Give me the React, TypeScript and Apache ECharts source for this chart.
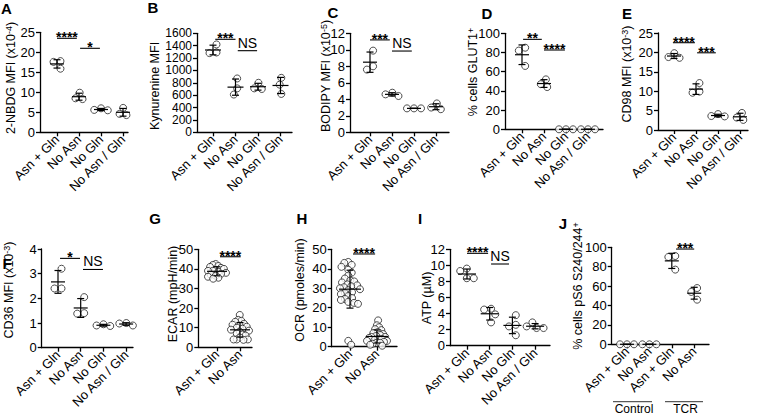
import React, { useEffect, useRef } from 'react';
import * as echarts from 'echarts';

const FONT = 'Liberation Sans, Arial, Helvetica, sans-serif';

// ---- categories ----
const catsFour = ['Asn + Gln', 'No Asn', 'No Gln', 'No Asn / Gln'];
const catsTwo = ['Asn + Gln', 'No Asn'];
const catsJ = ['Asn + Gln', 'No Asn', 'Asn + Gln', 'No Asn'];

// ---- series values (one list per group) ----
const nbdgValues = [[17.8, 17.6, 15.9], [9.9, 8.3, 8.5], [6.0, 5.6, 5.5], [6.1, 4.3, 4.6]];
const kynurenineValues = [[1420, 1280, 1290], [870, 710, 610], [800, 710, 700], [880, 770, 620]];
const bodipyValues = [[9.9, 8.0, 7.6], [4.8, 4.4, 4.6], [2.9, 2.9, 2.9], [3.5, 3.0, 2.8]];
const glut1Values = [[85, 82, 66], [52, 47, 44], [0, 0, 0], [0, 0, 0]];
const cd98Values = [[19.8, 18.6, 18.8], [12.1, 9.9, 9.6], [4.1, 3.6, 3.5], [4.4, 3.2, 2.6]];
const cd36Values = [[3.2, 2.4, 2.4], [2.05, 1.38, 1.4], [0.95, 0.88, 0.9], [1.0, 0.9, 0.98]];
const ecarValues = [
  [42.5, 42, 41.5, 41, 40.5, 40, 39.5, 39, 39, 38.5, 38, 37.5, 37, 36.5, 36, 35.5, 35],
  [16.5, 14, 13.5, 13, 12, 11.5, 11, 10.5, 10, 9.5, 9, 8.5, 8, 7, 6.5, 6, 5, 4, 4, 4, 3.8],
];
const ocrValues = [
  [43.5, 43, 42, 41, 39.5, 38, 36.5, 35, 34, 33.5, 33, 32, 31.5, 31, 30.5, 30, 29.5, 29, 28, 27.5, 27, 26, 25, 24.5, 24, 23, 22.5, 22, 3, 1],
  [13.5, 11, 10, 9, 8.5, 7.5, 7, 6.5, 6, 5.5, 5, 5, 4.5, 4, 4, 3.5, 3, 3, 2.5, 2, 2, 1.5, 1, 0.5],
];
const atpValues = [[9.6, 9.3, 8.4, 8.4], [4.6, 4.5, 3.9, 2.9], [3.8, 2.6, 2.4, 1.3], [2.9, 2.4, 2.2, 2.2]];
const ps6Values = [[0, 0, 0], [0, 0, 0], [91, 90, 77], [58, 54, 46]];

// ---- significance annotations: [from category, to category, level, label] ----
const nbdgSig: [number, number, number, string][] = [[1, 1.9, 23.5, '****'], [2.05, 2.95, 21, '*']];
const kynSig: [number, number, number, string][] = [[1.1, 2.0, 1503, '***'], [2.1, 2.96, 1319, 'NS']];
const bodipySig: [number, number, number, string][] = [[1, 1.9, 11.2, '***'], [2.0, 2.9, 9.85, 'NS']];
const glut1Sig: [number, number, number, string][] = [[1.05, 1.9, 93.7, '**'], [2.0, 2.95, 82.6, '****']];
const cd98Sig: [number, number, number, string][] = [[0.95, 1.95, 22.5, '****'], [2.05, 2.9, 19.9, '***']];
const cd36Sig: [number, number, number, string][] = [[1.09, 1.97, 3.62, '*'], [2.1, 2.98, 3.17, 'NS']];
const ecarSig: [number, number, number, string][] = [[1.13, 2.03, 46.2, '****']];
const ocrSig: [number, number, number, string][] = [[1.11, 1.93, 47.6, '****']];
const atpSig: [number, number, number, string][] = [[1.0, 1.93, 11.5, '****'], [2.06, 2.85, 10.17, 'NS']];
const ps6Sig: [number, number, number, string][] = [[3.19, 4.0, 98.2, '***']];

// ---- axis titles / panel letters / y ticks ----
const axisTitles = [
  '2-NBDG MFI (x10{sup|-4})',
  'Kynurenine MFI',
  'BODIPY MFI (x10{sup|-5})',
  '% cells GLUT1{sup|+}',
  'CD98 MFI (x10{sup|-3})',
  'CD36 MFI (x10{sup|-3})',
  'ECAR (mpH/min)',
  'OCR (pmoles/min)',
  'ATP (µM)',
  '% cells pS6 S240/244{sup|+}',
];
const panelLetters = ['A', 'B', 'C', 'D', 'E', 'F', 'G', 'H', 'I', 'J'];
const yMaxes = [25, 1600, 12, 100, 25, 4, 50, 50, 12, 100];
const yIntervals = [5, 200, 2, 20, 5, 1, 10, 10, 2, 20];
const groupLabelsJ = ['Control', 'TCR'];

const panelData = [
  { cats: catsFour, values: nbdgValues, sig: nbdgSig },
  { cats: catsFour, values: kynurenineValues, sig: kynSig },
  { cats: catsFour, values: bodipyValues, sig: bodipySig },
  { cats: catsFour, values: glut1Values, sig: glut1Sig },
  { cats: catsFour, values: cd98Values, sig: cd98Sig },
  { cats: catsFour, values: cd36Values, sig: cd36Sig },
  { cats: catsTwo, values: ecarValues, sig: ecarSig },
  { cats: catsTwo, values: ocrValues, sig: ocrSig },
  { cats: catsFour, values: atpValues, sig: atpSig },
  { cats: catsJ, values: ps6Values, sig: ps6Sig },
];

// layout (pixels)
const layout = [
  { left: 40, right: 128, first: 57, sp: 22, top: 32.3, bottom: 132.3, meanW: 14, half: 99, yFont: 13, lx: 6.5, ly: 8, tx: 11, ty: 78 },
  { left: 197, right: 292, first: 213, sp: 22.5, top: 33.3, bottom: 132.3, meanW: 16, half: 99, yFont: 12, lx: 153, ly: 7.5, tx: 154.5, ty: 86 },
  { left: 350, right: 449, first: 370, sp: 22, top: 33.3, bottom: 132.3, meanW: 14, half: 99, yFont: 13, lx: 333, ly: 12, tx: 326, ty: 76 },
  { left: 505, right: 603, first: 522, sp: 22, top: 33.3, bottom: 129.3, meanW: 14, half: 99, yFont: 13, lx: 487, ly: 13, tx: 473, ty: 72 },
  { left: 658, right: 748, first: 674, sp: 22, top: 33, bottom: 130, meanW: 14, half: 99, yFont: 13, lx: 627, ly: 13, tx: 627, ty: 74 },
  { left: 41.7, right: 133, first: 58, sp: 22.7, top: 249, bottom: 347.7, meanW: 14, half: 99, yFont: 13, lx: 7, ly: 263, tx: 9, ty: 290 },
  { left: 198.3, right: 252, first: 217, sp: 23, top: 249.3, bottom: 347.3, meanW: 20, half: 9, yFont: 13, lx: 155, ly: 218, tx: 173, ty: 294 },
  { left: 331.7, right: 397, first: 350, sp: 27, top: 249.3, bottom: 346.7, meanW: 22, half: 10, yFont: 13, lx: 302, ly: 218.5, tx: 300, ty: 290 },
  { left: 450, right: 550, first: 467, sp: 22.7, top: 249.3, bottom: 345.7, meanW: 18, half: 99, yFont: 13, lx: 420, ly: 218.5, tx: 427, ty: 298 },
  { left: 611.7, right: 709, first: 627, sp: 22.4, top: 247.3, bottom: 344.3, meanW: 14, half: 99, yFont: 13, lx: 563, ly: 223.5, tx: 578, ty: 286 },
];

const SYM = 7;

function swarm(vals: number[], pxY: number, D: number, half: number): number[] {
  const idx = vals.map((_, i) => i).sort((a, b) => vals[b] - vals[a]);
  const placed: { x: number; y: number }[] = [];
  const out = new Array(vals.length).fill(0);
  let flip = 1;
  for (const i of idx) {
    const y = vals[i] * pxY;
    const cands = [0];
    for (const p of placed) {
      const dy = Math.abs(p.y - y);
      if (dy < D) {
        const dx = Math.sqrt(D * D - dy * dy);
        cands.push(p.x + dx + 0.01, p.x - dx - 0.01);
      }
    }
    cands.sort((a, b) => Math.abs(a) - Math.abs(b) || (a - b) * flip);
    let chosen = 0;
    for (const c of cands) {
      if (placed.every((p) => (p.x - c) ** 2 + (p.y - y) ** 2 >= D * D - 0.05)) {
        chosen = c;
        break;
      }
    }
    if (chosen !== 0) flip = -flip;
    placed.push({ x: chosen, y });
    out[i] = chosen;
  }
  const mn = Math.min(...out);
  const mx = Math.max(...out);
  const shift = (mn + mx) / 2;
  let res = out.map((o) => o - shift);
  const maxAbs = Math.max(...res.map(Math.abs));
  if (maxAbs > half) res = res.map((o) => (o * half) / maxAbs);
  return res;
}

function meanSd(v: number[]) {
  const m = v.reduce((a, b) => a + b, 0) / v.length;
  const s = v.length > 1 ? Math.sqrt(v.reduce((a, b) => a + (b - m) ** 2, 0) / (v.length - 1)) : 0;
  return [m, s];
}

function buildOption() {
  const axisLineStyle = { color: '#000', width: 1.3 };
  const grid: any[] = [];
  const xAxis: any[] = [];
  const yAxis: any[] = [];
  const series: any[] = [];
  const graphic: any[] = [];

  panelData.forEach((pd, i) => {
    const L = layout[i];
    const xmin = 1 - (L.first - L.left) / L.sp;
    const xmax = 1 + (L.right - L.first) / L.sp;
    const ymax = yMaxes[i];
    const yint = yIntervals[i];
    const pxY = (L.bottom - L.top) / ymax;
    grid.push({ left: L.left, top: L.top, width: L.right - L.left, height: L.bottom - L.top });
    const catPos = pd.cats.map((_, k) => k + 1);
    const cats = pd.cats;
    const yTicks: number[] = [];
    for (let v = 0; v <= ymax + 1e-9; v += yint) yTicks.push(v);
    xAxis.push({
      gridIndex: i,
      type: 'value',
      min: xmin,
      max: xmax,
      axisLine: { show: true, onZero: false, lineStyle: axisLineStyle },
      axisTick: { show: true, customValues: catPos, length: 4, lineStyle: axisLineStyle },
      axisLabel: {
        customValues: catPos,
        formatter: (v: number) => cats[Math.round(v) - 1] ?? '',
        rotate: 45,
        fontSize: 13,
        margin: 5,
        color: '#000',
        fontFamily: FONT,
        hideOverlap: false,
      },
      splitLine: { show: false },
    });
    yAxis.push({
      gridIndex: i,
      type: 'value',
      min: 0,
      max: ymax,
      interval: yint,
      axisLine: { show: true, lineStyle: axisLineStyle },
      axisTick: { show: true, length: 4, lineStyle: axisLineStyle, customValues: yTicks },
      axisLabel: {
        customValues: yTicks,
        fontSize: L.yFont,
        lineHeight: L.yFont,
        color: '#000',
        margin: 5,
        fontFamily: FONT,
        showMinLabel: true,
        showMaxLabel: true,
        hideOverlap: false,
        formatter: (v: number) => String(Math.round(v * 100) / 100),
      },
      splitLine: { show: false },
    });

    const pts: number[][] = [];
    const bars: number[][] = [];
    const D = L.half < 50 ? SYM * 0.8 : SYM;
    pd.values.forEach((grp, g) => {
      const offs = swarm(grp, pxY, D, L.half);
      grp.forEach((v, k) => pts.push([g + 1 + offs[k] / L.sp, v]));
      const [m, s] = meanSd(grp);
      bars.push([g + 1, m, s]);
    });

    series.push({
      type: 'scatter',
      xAxisIndex: i,
      yAxisIndex: i,
      data: pts,
      symbol: 'circle',
      symbolSize: SYM,
      clip: false,
      itemStyle: { color: '#fff', borderColor: '#222', borderWidth: 1 },
      z: 3,
    });

    const meanW = L.meanW;
    const capW = 7;
    series.push({
      type: 'custom',
      xAxisIndex: i,
      yAxisIndex: i,
      data: bars,
      clip: false,
      z: 4,
      renderItem: (params: any, api: any) => {
        const x = api.value(0);
        const m = api.value(1);
        const s = api.value(2);
        const c = api.coord([x, m]);
        const t = api.coord([x, m + s]);
        const b = api.coord([x, Math.max(0, m - s)]);
        const st = { stroke: '#000', lineWidth: 1.2 };
        return {
          type: 'group',
          children: [
            { type: 'line', shape: { x1: c[0], y1: t[1], x2: c[0], y2: b[1] }, style: st },
            { type: 'line', shape: { x1: c[0] - capW / 2, y1: t[1], x2: c[0] + capW / 2, y2: t[1] }, style: st },
            { type: 'line', shape: { x1: c[0] - capW / 2, y1: b[1], x2: c[0] + capW / 2, y2: b[1] }, style: st },
            { type: 'line', shape: { x1: c[0] - meanW / 2, y1: c[1], x2: c[0] + meanW / 2, y2: c[1] }, style: st },
          ],
        };
      },
    });

    const sig = pd.sig;
    series.push({
      type: 'custom',
      xAxisIndex: i,
      yAxisIndex: i,
      data: sig.map((s) => [s[0], s[1], s[2]]),
      clip: false,
      z: 5,
      renderItem: (params: any, api: any) => {
        const lbl = sig[params.dataIndex][3];
        const p1 = api.coord([api.value(0), api.value(2)]);
        const p2 = api.coord([api.value(1), api.value(2)]);
        const ns = lbl === 'NS';
        return {
          type: 'group',
          children: [
            { type: 'line', shape: { x1: p1[0], y1: p1[1], x2: p2[0], y2: p1[1] }, style: { stroke: '#000', lineWidth: 1.1 } },
            {
              type: 'text',
              x: (p1[0] + p2[0]) / 2,
              y: ns ? p1[1] - 8 : p1[1] - 1,
              style: {
                text: lbl,
                fontSize: 14,
                fontWeight: ns ? 'normal' : 'bold',
                fontFamily: FONT,
                fill: '#000',
                align: 'center',
                verticalAlign: 'middle',
              },
            },
          ],
        };
      },
    });

    graphic.push({
      type: 'text',
      x: L.lx,
      y: L.ly,
      style: { text: panelLetters[i], fontSize: 15, fontWeight: 'bold', fontFamily: FONT, fill: '#000', align: 'center', verticalAlign: 'middle' },
    });
    graphic.push({
      type: 'text',
      x: L.tx,
      y: L.ty,
      rotation: Math.PI / 2,
      style: {
        text: axisTitles[i],
        fontSize: 12.5,
        fontFamily: FONT,
        fill: '#000',
        align: 'center',
        verticalAlign: 'middle',
        rich: { sup: { fontSize: 9, fontFamily: FONT, fill: '#000', verticalAlign: 'top' } },
      },
    });
  });

  // J group labels
  const groupLines = [[613, 652], [665, 703]];
  groupLines.forEach((g, k) => {
    graphic.push({ type: 'line', shape: { x1: g[0], y1: 401.7, x2: g[1], y2: 401.7 }, style: { stroke: '#333', lineWidth: 1 } });
    graphic.push({
      type: 'text',
      x: (g[0] + g[1]) / 2 + 1.5,
      y: 408.5,
      style: { text: groupLabelsJ[k], fontSize: 12, fontFamily: FONT, fill: '#000', align: 'center', verticalAlign: 'middle' },
    });
  });

  return {
    animation: false,
    backgroundColor: '#fff',
    textStyle: { fontFamily: FONT },
    grid,
    xAxis,
    yAxis,
    series,
    graphic,
  };
}

export default function App() {
  const ref = useRef<HTMLDivElement>(null);
  useEffect(() => {
    if (!ref.current) return;
    const chart = echarts.init(ref.current, undefined, { renderer: 'svg' });
    chart.setOption(buildOption() as any);
    return () => chart.dispose();
  }, []);
  return <div ref={ref} style={{ position: 'fixed', left: 0, top: 0, width: 757, height: 415, background: '#fff' }} />;
}
